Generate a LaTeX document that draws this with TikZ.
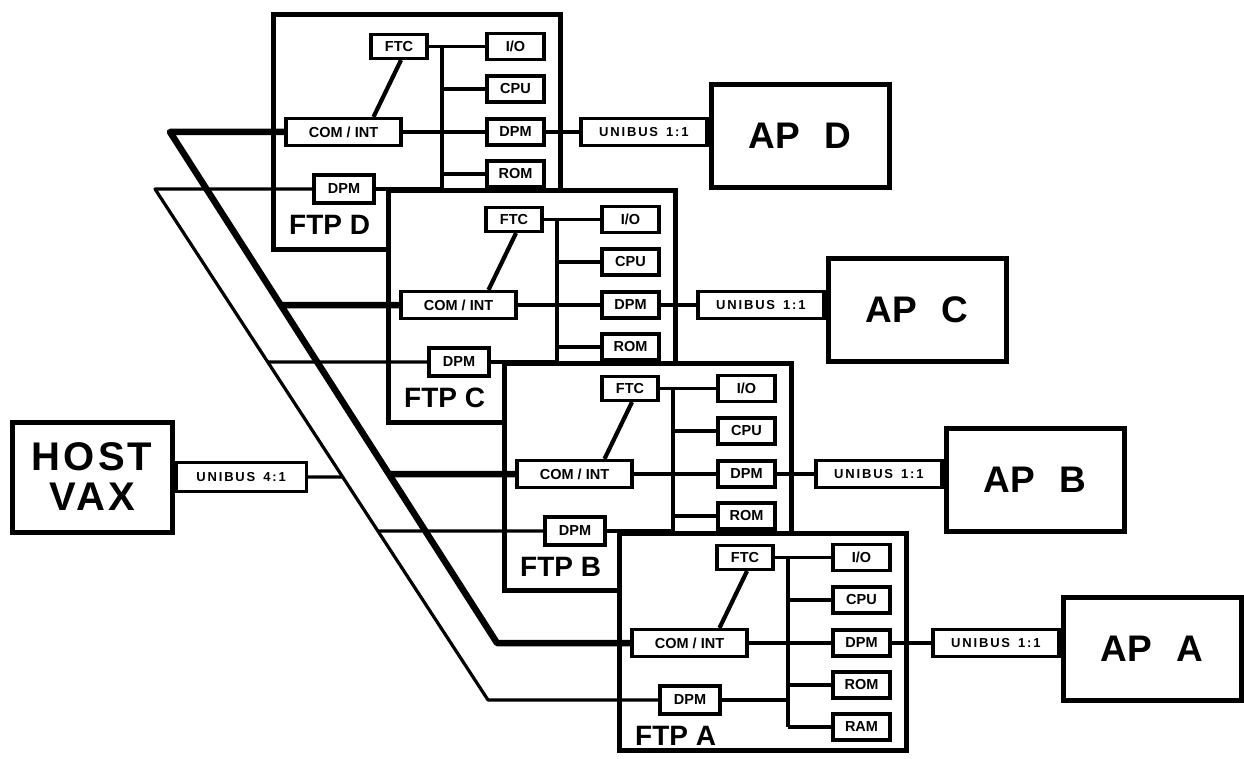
\documentclass[tikz,border=0pt]{standalone}
\usepackage{fontspec}
\setmainfont{Liberation Sans}
\usetikzlibrary{calc}
\tikzset{
  ftpbox/.style={draw, line width=5pt, fill=white, minimum width=287pt, inner sep=0pt},
  ibox/.style={draw, line width=3.2pt, fill=white, inner sep=0pt, font=\fontsize{14.5}{16}\selectfont\bfseries},
  rbox/.style={ibox, minimum width=57pt, minimum height=26pt},
  lbl/.style={font=\fontsize{28}{30}\selectfont\bfseries, inner sep=0pt},
  conn/.style={line width=3.2pt},
  busline/.style={line width=4.5pt},
  ftcline/.style={line width=4.2pt},
  thickbus/.style={line width=6.5pt, line join=round},
  thinbus/.style={line width=3.2pt, line join=round},
  apbox/.style={draw, line width=5pt, fill=white, minimum width=178pt, minimum height=103pt, font=\fontsize{37}{40}\selectfont\bfseries},
  ubbox/.style={draw, line width=3.2pt, fill=white, inner sep=0pt, minimum height=27pt, font=\fontsize{13}{15}\selectfont\bfseries\addfontfeature{LetterSpace=14}},
  hostbox/.style={draw, line width=5pt, fill=white, minimum width=160pt, minimum height=110pt, align=center, font=\fontsize{40}{40}\selectfont\bfseries\addfontfeature{LetterSpace=8}},
}
% #1 name, #2 X, #3 Y, #4 height, #5 inner shift, #6 RAM shown (1) or hidden (0)
\newcommand\ftpmod[6]{%
  \node[ftpbox, minimum height=#4pt, anchor=north west] (ftp#1) at (#2,#3) {};
  \node[ibox, minimum width=56pt, minimum height=24pt] (ftc#1) at ({#2+128},{#3+#5+26.5}) {FTC};
  \node[rbox] (io#1)  at ({#2+244.5},{#3+#5+26.5}) {I/O};
  \node[rbox] (cpu#1) at ({#2+244.5},{#3+#5+69}) {CPU};
  \node[rbox] (dpm#1) at ({#2+244.5},{#3+#5+112}) {DPM};
  \node[rbox] (rom#1) at ({#2+244.5},{#3+#5+154}) {ROM};
  \node[ibox, minimum width=115pt, minimum height=27pt] (com#1) at ({#2+72.5},{#3+#5+112}) {COM / INT};
  \node[ibox, minimum width=60pt, minimum height=28pt] (dpml#1) at ({#2+73},{#3+#5+169}) {DPM};
  \node[lbl, anchor=west] (lbl#1) at ({#2+18},{#3+#5+205}) {FTP #1};
  \coordinate (bus#1) at ({#2+171},{#3+#5+26.5});
  \coordinate (busend#1) at ({#2+171},{#3+#5+196});
  \draw[busline] (bus#1) -- (busend#1);
  \draw[conn] (ftc#1.east) -- (ftc#1.east -| bus#1);
  \draw[conn] (io#1.west) -- (io#1.west -| bus#1);
  \draw[conn] (cpu#1.west) -- (cpu#1.west -| bus#1);
  \draw[conn] (com#1.east) -- (dpm#1.west);
  \draw[conn] (rom#1.west) -- (rom#1.west -| bus#1);
  \ifnum#6=1
    \node[rbox] (ram#1) at ({#2+244.5},{#3+#5+196}) {RAM};
    \draw[conn] (ram#1.west) -- (busend#1);
  \fi
  \draw[conn] (dpml#1.east) -- (dpml#1.east -| bus#1);
  \draw[ftcline] ([xshift=2pt]ftc#1.south) -- ([xshift=30pt]com#1.north);
}
\begin{document}
\begin{tikzpicture}[x=1pt,y=-1pt]
\useasboundingbox[fill=white] (0,0) rectangle (1244,759);

\ftpmod{D}{271}{12}{235}{8}{0}
\ftpmod{C}{386}{188}{232}{5}{0}
\ftpmod{B}{502}{361}{227}{1}{0}
\ftpmod{A}{617}{531}{217}{0}{1}

% attached processors
\node[apbox] (apD) at (800,136) {AP\hspace{24pt}D};
\node[apbox] (apC) at (917,310) {AP\hspace{24pt}C};
\node[apbox] (apB) at (1035,480) {AP\hspace{24pt}B};
\node[apbox] (apA) at (1152,649) {AP\hspace{24pt}A};

\node[ubbox, minimum width=126pt, anchor=east] (ubD) at (apD.west |- dpmD.east) {UNIBUS\hspace{8pt}1:1};
\node[ubbox, minimum width=126pt, anchor=east] (ubC) at (apC.west |- dpmC.east) {UNIBUS\hspace{8pt}1:1};
\node[ubbox, minimum width=126pt, anchor=east] (ubB) at (apB.west |- dpmB.east) {UNIBUS\hspace{8pt}1:1};
\node[ubbox, minimum width=126pt, anchor=east] (ubA) at (apA.west |- dpmA.east) {UNIBUS\hspace{8pt}1:1};

\draw[conn] (dpmD.east) -- (ubD.west);
\draw[conn] (dpmC.east) -- (ubC.west);
\draw[conn] (dpmB.east) -- (ubB.west);
\draw[conn] (dpmA.east) -- (ubA.west);

% host
\node[hostbox] (host) at (92,477) {HOST\\VAX};
\node[ubbox, minimum width=130pt, minimum height=29pt, anchor=west] (ub41) at (host.east) {UNIBUS\hspace{8pt}4:1};

% thick bus (COM/INT)
\coordinate (tcx) at (170,0);
\coordinate (tbx) at (497,0);
\coordinate (tc) at (comD.west -| tcx);
\coordinate (tb) at (comA.west -| tbx);
\draw[thickbus] (comD.west) -- (tc) -- (tb) -- (comA.west);
\coordinate (cC) at (comC.west);
\coordinate (cB) at (comB.west);
\coordinate (fC) at ([xshift=-400pt]comC.west);
\coordinate (fB) at ([xshift=-400pt]comB.west);
\coordinate (jC) at (intersection of tc--tb and cC--fC);
\coordinate (jB) at (intersection of tc--tb and cB--fB);
\draw[thickbus] (jC) -- (comC.west);
\draw[thickbus] (jB) -- (comB.west);

% thin bus (DPM)
\coordinate (ncx) at (155,0);
\coordinate (nbx) at (488,0);
\coordinate (nc) at (dpmlD.west -| ncx);
\coordinate (nb) at (dpmlA.west -| nbx);
\draw[thinbus] (dpmlD.west) -- (nc) -- (nb) -- (dpmlA.west);
\coordinate (dC) at (dpmlC.west);
\coordinate (dB) at (dpmlB.west);
\coordinate (gC) at ([xshift=-400pt]dpmlC.west);
\coordinate (gB) at ([xshift=-400pt]dpmlB.west);
\coordinate (kC) at (intersection of nc--nb and dC--gC);
\coordinate (kB) at (intersection of nc--nb and dB--gB);
\draw[thinbus] (kC) -- (dpmlC.west);
\draw[thinbus] (kB) -- (dpmlB.west);
\coordinate (hE) at (ub41.east);
\coordinate (hF) at ([xshift=400pt]ub41.east);
\coordinate (kH) at (intersection of nc--nb and hE--hF);
\draw[thinbus] (ub41.east) -- (kH);
\end{tikzpicture}
\end{document}
